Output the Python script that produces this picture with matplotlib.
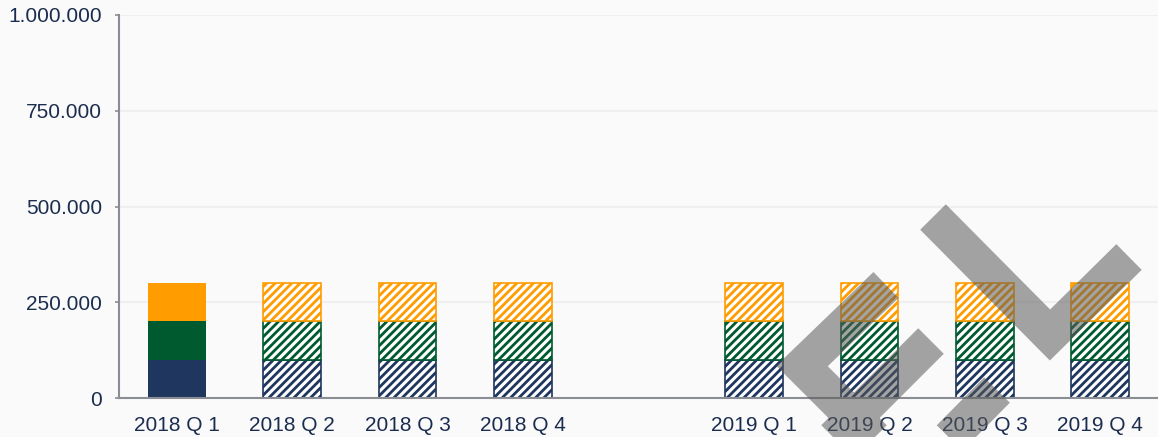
import matplotlib.pyplot as plt
from matplotlib.lines import Line2D
from matplotlib.ticker import FuncFormatter

plt.rcParams['font.family'] = ['Liberation Sans', 'DejaVu Sans']
plt.rcParams['hatch.linewidth'] = 2.0

# data
quarters = ['2018 Q 1', '2018 Q 2', '2018 Q 3', '2018 Q 4',
            '2019 Q 1', '2019 Q 2', '2019 Q 3', '2019 Q 4']
slots = [0, 1, 2, 3, 5, 6, 7, 8]   # slot 4 stays empty between the years
navy_part = [100000, 100000, 100000, 100000, 100000, 100000, 100000, 100000]
green_part = [100000, 100000, 100000, 100000, 100000, 100000, 100000, 100000]
orange_part = [100000, 100000, 100000, 100000, 100000, 100000, 100000, 100000]
forecast = [False, True, True, True, True, True, True, True]
yticks = [0, 250000, 500000, 750000, 1000000]

colors = ['#1f365f', '#005a30', '#ff9c00']
text_color = '#1b2d4f'
bg = '#fafafa'

W, H = 1158, 437
fig = plt.figure(figsize=(W / 100, H / 100), dpi=100, facecolor=bg)
ax = fig.add_axes([119 / W, 39 / H, 1 - 119 / W, 383 / H], facecolor=bg)

bottom = [0] * len(slots)
for part, c in zip([navy_part, green_part, orange_part], colors):
    for i, x in enumerate(slots):
        if forecast[i]:
            ax.bar(x, part[i], bottom=bottom[i], width=0.5, facecolor='white',
                   edgecolor=c, hatch='////', linewidth=1.2, zorder=3)
        else:
            ax.bar(x, part[i], bottom=bottom[i], width=0.5, color=c,
                   linewidth=0, zorder=3)
        bottom[i] += part[i]

ax.set_xlim(-0.5, 8.5)
ax.set_ylim(0, 1000000)
ax.set_xticks(slots)
ax.set_xticklabels(quarters)
ax.set_yticks(yticks)
ax.yaxis.set_major_formatter(FuncFormatter(lambda v, p: f'{v:,.0f}'.replace(',', '.')))
ax.tick_params(axis='x', length=0, pad=13, labelsize=15, labelcolor=text_color)
ax.tick_params(axis='y', length=3, width=1.2, color='#8a8d93', pad=9,
               labelsize=15, labelcolor=text_color)
ax.grid(axis='y', color='#efefef', linewidth=1.5, zorder=0)
for s in ['top', 'right']:
    ax.spines[s].set_visible(False)
for s in ['left', 'bottom']:
    ax.spines[s].set_color('#8a8d93')
    ax.spines[s].set_linewidth(1.5)
    ax.spines[s].set_zorder(4)

# grey watermark strokes (image pixel coords, y from top), drawn as one path
strokes = [
    [(933, 217), (1050, 335), (1129, 257)],
    [(886, 285), (802, 366), (906, 470)],
    [(931, 341), (802, 470)],
    [(997, 390), (918, 470)],
]
xs, ys = [], []
for pts in strokes:
    xs += [p[0] / W for p in pts] + [float('nan')]
    ys += [1 - p[1] / H for p in pts] + [float('nan')]
fig.add_artist(Line2D(xs, ys, transform=fig.transFigure, color='#5a5a5a',
                      alpha=0.55, linewidth=26, solid_joinstyle='miter',
                      solid_capstyle='butt', zorder=10))

fig.savefig('out.png', dpi=100, facecolor=bg)
